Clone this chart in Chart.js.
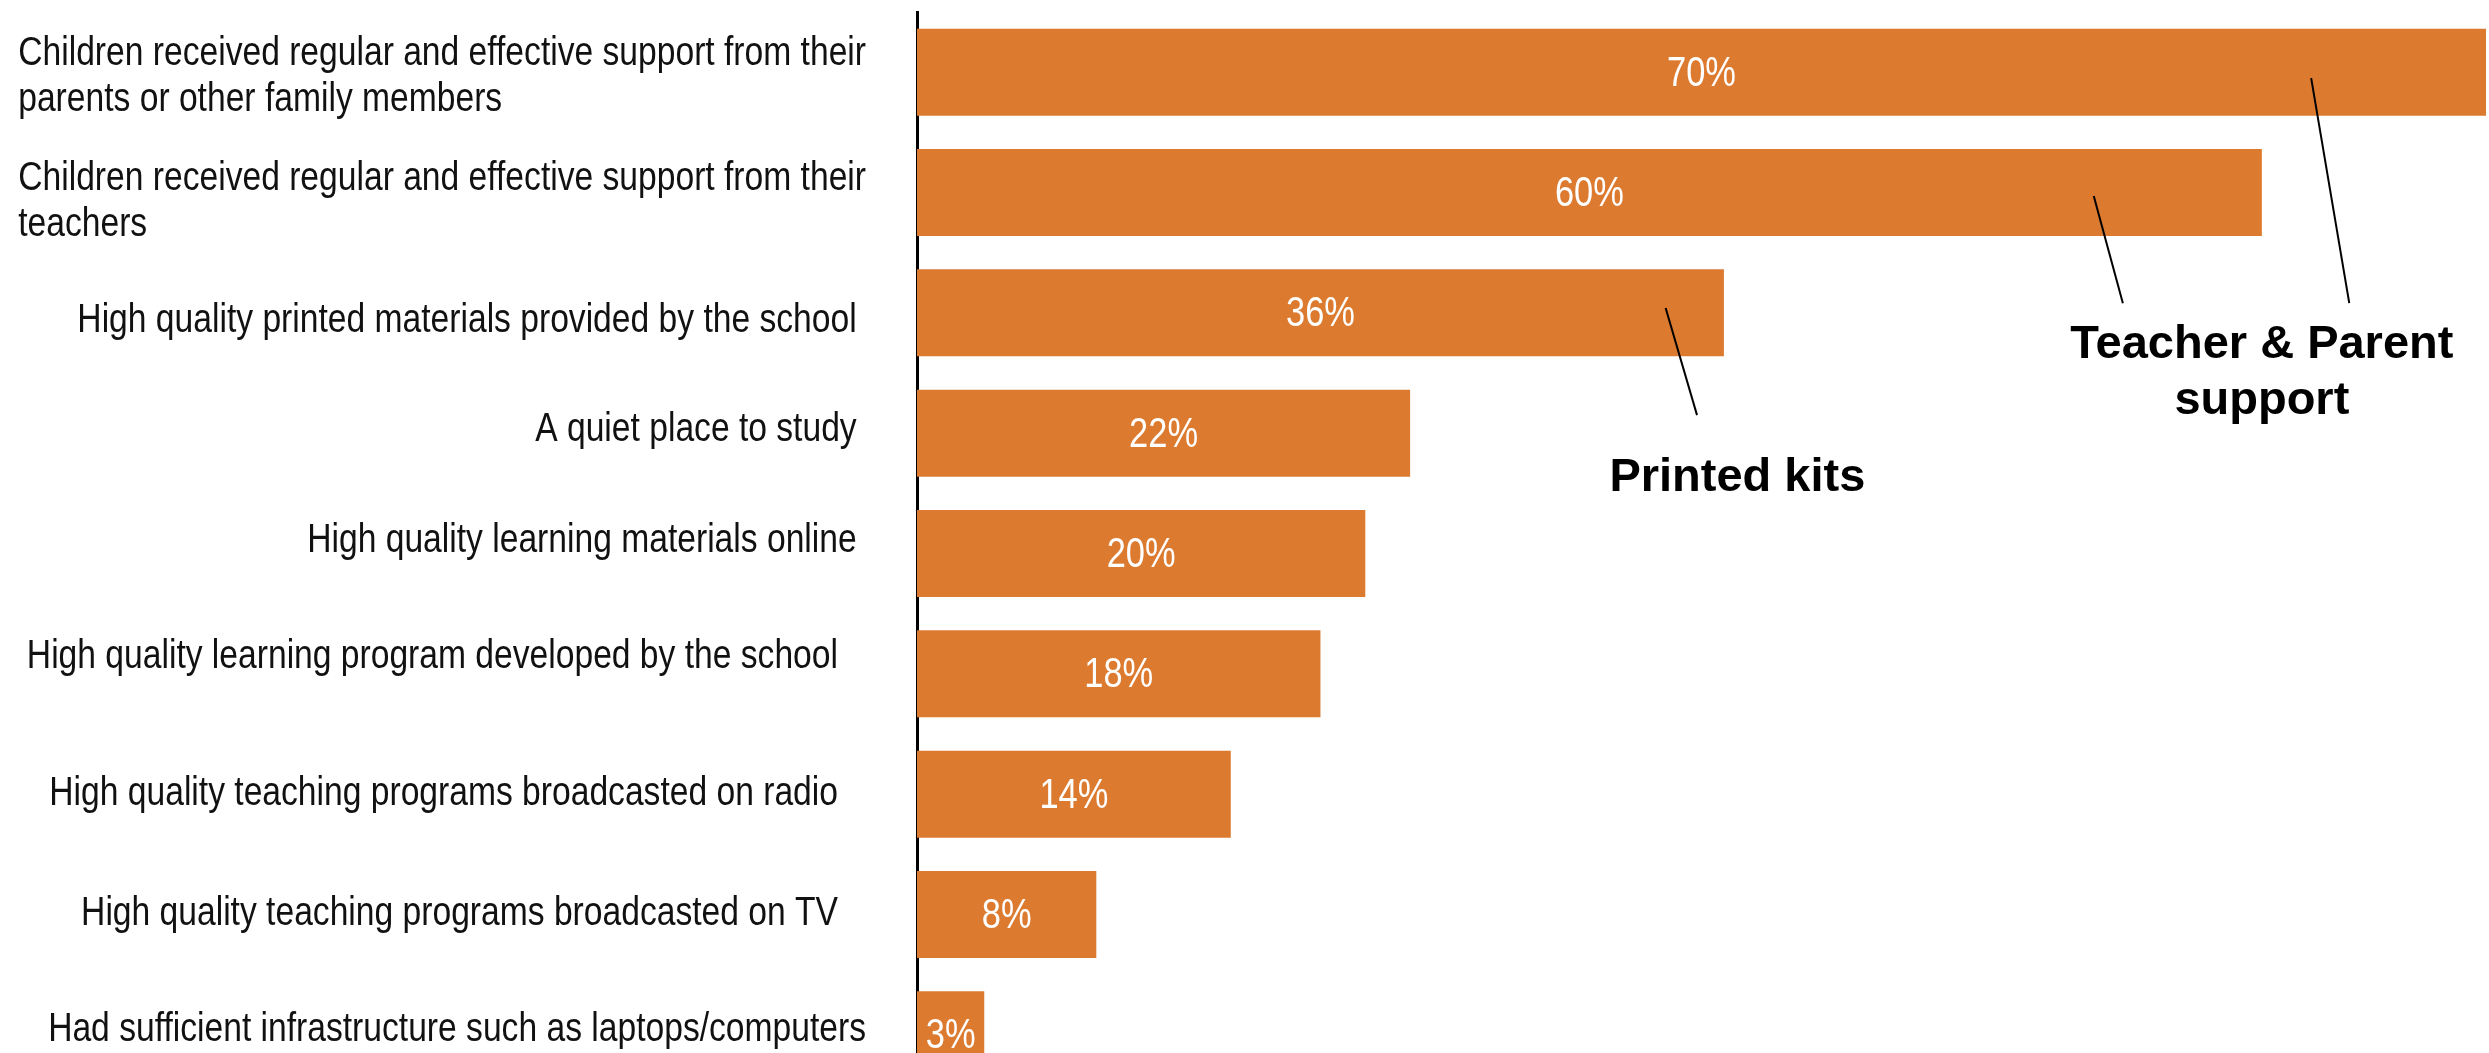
<!DOCTYPE html>
<html lang="en">
<head>
<meta charset="UTF-8">
<title>What helped children learn at home</title>
<script src="https://cdn.jsdelivr.net/npm/chart.js"></script>
<style>
  html, body { margin: 0; padding: 0; overflow: hidden; background: #fff; }
  canvas { display: block; }
</style>
</head>
<body>
<canvas id="support-chart" width="2489" height="1100"></canvas>
<script>
  // one entry per bar, top to bottom; long ones are wrapped by hand
  const categories = [
    ['Children received regular and effective support from their', 'parents or other family members'],
    ['Children received regular and effective support from their', 'teachers'],
    ['High quality printed materials provided by the school '],
    ['A quiet place to study '],
    ['High quality learning materials online '],
    ['High quality learning program developed by the school   '],
    ['High quality teaching programs broadcasted on radio   '],
    ['High quality teaching programs broadcasted on TV   '],
    ['Had sufficient infrastructure such as laptops/computers']
  ];
  const shares = [70, 60, 36, 22, 20, 18, 14, 8, 3];
  const axisMax = 70;

  const calloutLabels = [['Printed kits'], ['Teacher & Parent', 'support']];

  const ORANGE = '#DC7B30';
  const LABEL_FONT = '41px "Liberation Sans", Arial, sans-serif';
  const VALUE_FONT = '42px "Liberation Sans", Arial, sans-serif';
  const CALLOUT_FONT = 'bold 47px "Liberation Sans", Arial, sans-serif';
  // no narrow face installed, so label text is squeezed horizontally
  const NARROW = 0.82;
  // the category labels don't sit exactly on their bars (px, + is down)
  const LABEL_SHIFT = [5, 9, 8, -3, -13, -17, 0, -1, -5];

  // callout text anchors and leader lines, in (percent, category index)
  const callouts = [
    { text: calloutLabels[0], at: [36.6, 3.37], leaders: [[[33.4, 1.96], [34.8, 2.85]]] },
    { text: calloutLabels[1], at: [60.0, 2.27], leaders: [
        [[52.5, 1.03], [53.8, 1.92]],
        [[62.2, 0.05], [63.9, 1.92]]
    ] }
  ];

  // category labels: right-aligned block, lines inside a block left-aligned
  const sideLabels = {
    id: 'sideLabels',
    afterDraw(chart) {
      const { ctx } = chart;
      const yScale = chart.scales.y;
      const lineH = 46;
      ctx.save();
      ctx.font = LABEL_FONT;
      ctx.fillStyle = '#111';
      ctx.textAlign = 'left';
      ctx.textBaseline = 'middle';
      ctx.translate(yScale.right - 51, 0);
      ctx.scale(NARROW, 1);
      categories.forEach((lines, i) => {
        const w = Math.max(...lines.map(l => ctx.measureText(l).width));
        const top = yScale.getPixelForValue(i) + LABEL_SHIFT[i] - (lines.length - 1) * lineH / 2;
        lines.forEach((l, k) => ctx.fillText(l, -w, top + k * lineH));
      });
      ctx.restore();
    }
  };

  const barValues = {
    id: 'barValues',
    afterDatasetsDraw(chart) {
      const { ctx } = chart;
      ctx.save();
      ctx.font = VALUE_FONT;
      ctx.fillStyle = '#fff';
      ctx.textAlign = 'center';
      ctx.textBaseline = 'middle';
      chart.getDatasetMeta(0).data.forEach((bar, i) => {
        ctx.save();
        ctx.translate((bar.x + bar.base) / 2, bar.y + 2);
        ctx.scale(NARROW, 1);
        ctx.fillText(shares[i] + '%', 0, 0);
        ctx.restore();
      });
      ctx.restore();
    }
  };

  const calloutPlugin = {
    id: 'callouts',
    afterDraw(chart) {
      const { ctx, scales: { x, y } } = chart;
      const px = p => [x.getPixelForValue(p[0]), y.getPixelForValue(p[1])];
      ctx.save();
      ctx.strokeStyle = '#000';
      ctx.lineWidth = 2;
      ctx.fillStyle = '#000';
      ctx.font = CALLOUT_FONT;
      ctx.textAlign = 'center';
      ctx.textBaseline = 'middle';
      callouts.forEach(c => {
        c.leaders.forEach(([a, b]) => {
          const p1 = px(a), p2 = px(b);
          ctx.beginPath();
          ctx.moveTo(p1[0], p1[1]);
          ctx.lineTo(p2[0], p2[1]);
          ctx.stroke();
        });
        const [tx, ty] = px(c.at);
        c.text.forEach((t, k) => ctx.fillText(t, tx, ty + k * 56));
      });
      ctx.restore();
    }
  };

  new Chart(document.getElementById('support-chart'), {
    type: 'bar',
    data: {
      labels: categories,
      datasets: [{
        data: shares,
        backgroundColor: ORANGE,
        borderWidth: 0,
        categoryPercentage: 1,
        barPercentage: 0.723
      }]
    },
    options: {
      indexAxis: 'y',
      responsive: false,
      devicePixelRatio: 1,
      animation: false,
      layout: { padding: { top: 12, right: 3, bottom: 5, left: 0 } },
      plugins: {
        legend: { display: false },
        tooltip: { enabled: false }
      },
      scales: {
        x: {
          display: false,
          min: 0,
          max: axisMax
        },
        y: {
          z: 1,
          grid: { display: false, drawTicks: false },
          border: { display: true, color: '#000', width: 3 },
          ticks: { display: false },
          afterFit(scale) { scale.width = 917; }
        }
      }
    },
    plugins: [sideLabels, barValues, calloutPlugin]
  });
</script>
</body>
</html>
